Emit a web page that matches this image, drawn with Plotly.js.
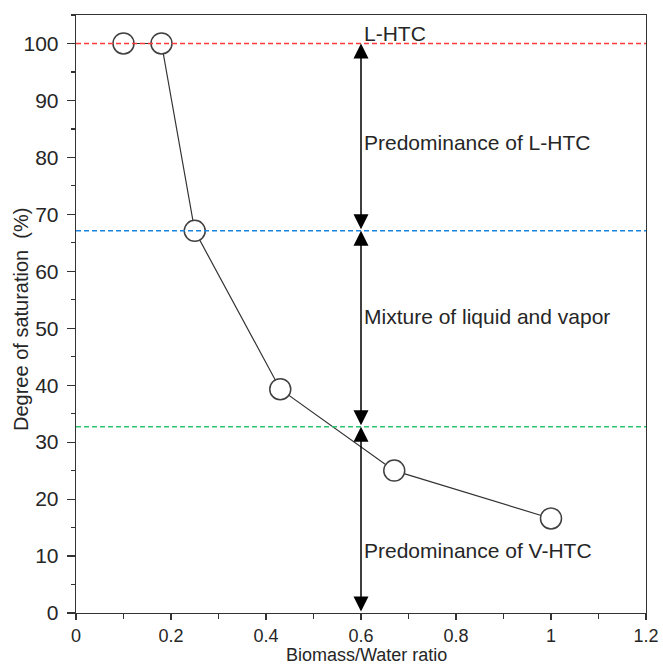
<!DOCTYPE html>
<html>
<head>
<meta charset="utf-8">
<script src="https://cdn.plot.ly/plotly-3.0.1.min.js"></script>
<style>html,body{margin:0;padding:0;background:#fff;}#chart{width:663px;height:666px;}</style>
</head>
<body>
<div id="chart"></div>
<script>
// Data
const ratio = [0.1, 0.18, 0.25, 0.43, 0.67, 1.0];
const saturation = [100, 100, 67.1, 39.3, 25.0, 16.6];

// Threshold lines (degree of saturation, %)
const thresholdValues = [100, 67.1, 32.7];
const thresholdColors = ['#ff3b3b', '#1a84e0', '#2fc46f'];

// Region arrows at x = 0.6 (from, to)
const arrowX = 0.6;
const arrowSpans = [[67.1, 100], [32.7, 67.1], [0, 32.7]];

// Region labels
const labelTexts = ['L-HTC', 'Predominance of L-HTC', 'Mixture of liquid and vapor', 'Predominance of V-HTC'];
const labelY = [101.8, 82.7, 52, 11.0];

// Axis titles
const xTitle = 'Biomass/Water ratio';
const yTitle = 'Degree of saturation  (%)';

const font = '"Liberation Sans", Arial, sans-serif';
const txt = '#262626';

const trace = {
  x: ratio, y: saturation, type: 'scatter', mode: 'lines+markers',
  line: {color: '#333333', width: 1.2},
  marker: {symbol: 'circle', size: 21, color: '#ffffff', line: {color: '#404040', width: 1.5}},
  hoverinfo: 'x+y', showlegend: false, cliponaxis: false
};

const shapes = thresholdValues.map((v, i) => ({
  type: 'line', xref: 'paper', yref: 'y', x0: 0, x1: 1, y0: v, y1: v,
  line: {color: thresholdColors[i], width: 1.5, dash: '5px,3px'}, layer: 'above'
}));

const annotations = [];
arrowSpans.forEach(s => {
  annotations.push({
    x: arrowX, y: s[1], ax: arrowX, ay: s[0], xref: 'x', yref: 'y', axref: 'x', ayref: 'y',
    text: '', showarrow: true, arrowhead: 2, startarrowhead: 2, arrowside: 'end+start',
    arrowsize: 2, startarrowsize: 2, arrowwidth: 1.5, arrowcolor: '#000000', standoff: 0, startstandoff: 0
  });
});
labelTexts.forEach((t, i) => {
  annotations.push({
    x: arrowX, y: labelY[i], xref: 'x', yref: 'y', text: t, showarrow: false,
    xanchor: 'left', yanchor: 'middle', xshift: 1,
    font: {family: font, size: 21, color: txt}
  });
});
// axis titles placed as annotations
annotations.push({
  x: 0.5, y: 0, xref: 'paper', yref: 'paper', text: xTitle, showarrow: false,
  xanchor: 'center', yanchor: 'middle', xshift: 5, yshift: -42,
  font: {family: font, size: 18, color: txt}
});
annotations.push({
  x: 0, y: 0.49, xref: 'paper', yref: 'paper', text: yTitle, showarrow: false, textangle: -90,
  xanchor: 'center', yanchor: 'middle', xshift: -55,
  font: {family: font, size: 20, color: txt}
});

const layout = {
  width: 663, height: 666,
  margin: {l: 76, r: 17, t: 15, b: 53},
  paper_bgcolor: '#ffffff', plot_bgcolor: '#ffffff',
  font: {family: font, size: 21, color: txt},
  showlegend: false,
  xaxis: {
    range: [0, 1.2], dtick: 0.2, tick0: 0, showgrid: false, zeroline: false,
    showline: true, linecolor: '#333333', linewidth: 1.3, mirror: true,
    ticks: 'outside', ticklen: 6, tickwidth: 1.2, tickcolor: '#333333',
    minor: {dtick: 0.1, ticks: 'outside', ticklen: 5, tickwidth: 1.2, tickcolor: '#333333', showgrid: false},
    tickfont: {family: font, size: 18, color: txt},
    ticklabelstandoff: 0
  },
  yaxis: {
    range: [0, 105], dtick: 10, tick0: 0, showgrid: false, zeroline: false,
    showline: true, linecolor: '#333333', linewidth: 1.3, mirror: true,
    ticks: 'outside', ticklen: 8, tickwidth: 1.2, tickcolor: '#333333',
    minor: {dtick: 5, ticks: 'outside', ticklen: 4, tickwidth: 1.2, tickcolor: '#333333', showgrid: false},
    tickfont: {family: font, size: 21, color: txt},
    ticklabelstandoff: 4
  },
  shapes: shapes,
  annotations: annotations
};

Plotly.newPlot('chart', [trace], layout, {displayModeBar: false, staticPlot: true});
</script>
</body>
</html>
